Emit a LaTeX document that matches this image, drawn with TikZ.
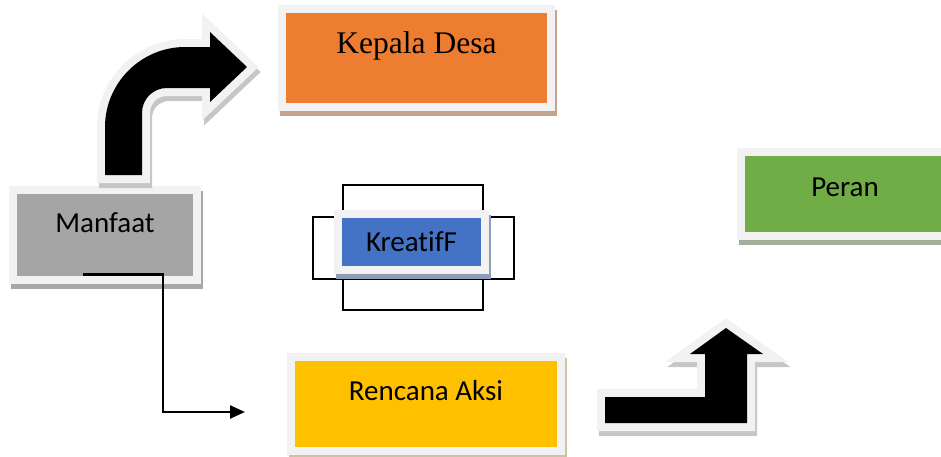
\documentclass[tikz,border=0pt]{standalone}
\usepackage{fontspec}
\setmainfont{Liberation Serif}
\newfontfamily\calibri[Ligatures=NoCommon]{Carlito}
\usetikzlibrary{positioning,arrows.meta,shadows,calc}
\definecolor{framegray}{HTML}{F2F2F2}
\definecolor{kdorange}{HTML}{ED7D31}
\definecolor{kdshadow}{HTML}{C4A48C}
\definecolor{mfgray}{HTML}{A5A5A5}
\definecolor{mfshadow}{HTML}{A8A8A8}
\definecolor{krblue}{HTML}{4472C4}
\definecolor{krshadow}{HTML}{8E9DB8}
\definecolor{prgreen}{HTML}{70AD47}
\definecolor{prshadow}{HTML}{A3AE9B}
\definecolor{raYellow}{HTML}{FFC000}
\definecolor{rashadow}{HTML}{CEC3A0}
\definecolor{arrowshadow}{HTML}{C6C6C6}

\begin{document}
\begin{tikzpicture}[x=0.5pt, y=-0.5pt,
    boxshadow/.style={general shadow={shadow xshift=1pt, shadow yshift=-2.5pt, draw=#1, fill=#1, line width=8pt}},
    box/.style={rectangle, inner sep=0pt, fill=#1,
        preaction={draw=framegray, line width=8pt},
        font=\calibri\fontsize{14.5}{17}\selectfont},
    blockarrow/.style={fill=black, line join=miter,
        general shadow={shadow xshift=1pt, shadow yshift=-2.5pt, draw=arrowshadow, fill=arrowshadow, line width=8pt},
        preaction={draw=framegray, fill=framegray, line width=8pt}},
    conn/.style={line width=1.2pt, -{Triangle[length=7.5pt, width=6.5pt]}}]
    \useasboundingbox (0,0) rectangle (941,456);

    % Kepala Desa
    \node[boxshadow=kdshadow, box=kdorange, minimum width=130.5pt, minimum height=45pt,
        text depth=15pt, font=\rmfamily\fontsize{15.75}{18}\selectfont] (kd) at (416.5,58) {Kepala Desa};

    % Manfaat
    \node[boxshadow=mfshadow, box=mfgray, minimum width=88pt, minimum height=41pt,
        text depth=12pt] (mf) at (105,235) {Manfaat};

    % KreatifF with the two open frames behind it
    \draw[line width=1pt] (343,185) rectangle (483,310);
    \draw[line width=1pt] (313,217) rectangle (514,279);
    \node[boxshadow=krshadow, box=krblue, minimum width=69.5pt, minimum height=24pt] (kr) at (411.5,242) {KreatifF};

    % Peran
    \node[boxshadow=prshadow, box=prgreen, minimum width=100pt, minimum height=38pt,
        text depth=7pt] (pr) at (845,194) {Peran};

    % Rencana Aksi
    \node[boxshadow=rashadow, box=raYellow, minimum width=131pt, minimum height=43pt,
        text depth=14pt] (ra) at (426,404) {Rencana Aksi};

    % Bent arrow up to Kepala Desa
    \path[blockarrow] (105,175) -- (105,127) .. controls (105,83) and (141,47) .. (185,47)
        -- (210,47) -- (210,32) -- (247,67) -- (210,102) -- (210,88) -- (167,88)
        .. controls (153,88) and (142,99) .. (142,113) -- (142,175) -- cycle;

    % Step arrow up to Peran
    \path[blockarrow] (605,397) -- (705,397) -- (705,354) -- (690,354) -- (726,328)
        -- (763,354) -- (747,354) -- (747,423) -- (605,423) -- cycle;

    % Elbow line from Manfaat
    \coordinate (ra-in) at (245,412);
    \draw[conn] ($(mf.south)+(-22,-2)$) -| ($(ra-in)+(-82,0)$) -- (ra-in);
\end{tikzpicture}
\end{document}
